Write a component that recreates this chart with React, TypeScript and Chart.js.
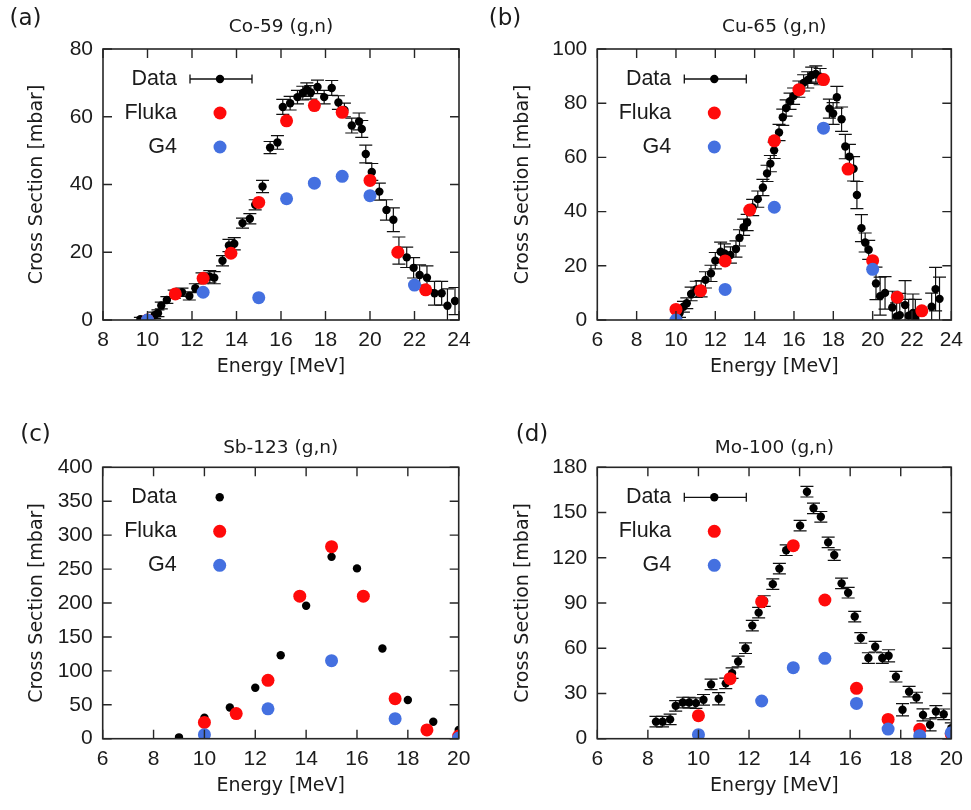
import { useEffect, useRef } from "react";
import { Chart, registerables } from "chart.js";

Chart.register(...registerables);

// ---------- Co-59 (g,n) ----------
const coDataEnergy = [9.68, 10.0, 10.32, 10.47, 10.62, 10.87, 11.2, 11.55, 11.88, 12.15, 12.45, 12.8, 13.0, 13.37, 13.66, 13.9, 14.27, 14.6, 14.84, 15.17, 15.51, 15.84, 16.08, 16.41, 16.74, 16.98, 17.16, 17.34, 17.64, 17.94, 18.28, 18.58, 18.85, 19.18, 19.51, 19.63, 19.81, 20.08, 20.42, 20.74, 21.05, 21.3, 21.65, 21.96, 22.23, 22.56, 22.9, 23.22, 23.48, 23.82];
const coDataXS = [0.2, 0.3, 1.4, 2.0, 4.3, 5.9, 7.6, 8.2, 7.1, 9.4, 12.3, 12.8, 12.5, 17.5, 22.0, 22.5, 28.6, 29.9, 34.0, 39.4, 50.9, 52.4, 62.9, 64.0, 65.8, 67.0, 68.0, 67.2, 68.8, 65.8, 68.5, 64.2, 62.0, 57.4, 58.6, 56.4, 49.0, 43.7, 37.9, 32.5, 29.6, 20.5, 18.5, 15.4, 13.3, 12.5, 7.9, 7.9, 4.2, 5.6];
const coDataErr = [0.6, 0.8, 0.9, 1.0, 1.0, 1.0, 1.2, 1.2, 1.2, 1.3, 1.6, 1.8, 1.8, 1.5, 1.8, 1.8, 1.5, 1.5, 1.5, 1.8, 1.8, 2.0, 2.2, 2.0, 2.0, 2.0, 2.0, 2.0, 2.0, 2.0, 2.2, 2.0, 2.0, 2.2, 2.5, 2.5, 2.6, 2.5, 2.5, 3.0, 3.5, 4.0, 3.0, 3.0, 3.0, 3.5, 3.5, 3.5, 5.0, 4.0];
const coFlukaEnergy = [10.0, 11.25, 12.5, 13.75, 15.0, 16.25, 17.5, 18.75, 20.0, 21.25, 22.5];
const coFlukaXS = [0.0, 7.7, 12.3, 19.7, 34.7, 58.8, 63.3, 61.3, 41.2, 20.0, 8.9];
const coG4Energy = [10.0, 12.5, 15.0, 16.25, 17.5, 18.75, 20.0, 22.0];
const coG4XS = [0.0, 8.2, 6.6, 35.8, 40.4, 42.4, 36.7, 10.3];

// ---------- Cu-65 (g,n) ----------
const cuDataEnergy = [10.18, 10.38, 10.55, 10.77, 11.03, 11.28, 11.5, 11.78, 12.0, 12.27, 12.46, 12.77, 13.05, 13.23, 13.44, 13.62, 13.9, 14.16, 14.42, 14.63, 14.8, 14.99, 15.24, 15.43, 15.6, 15.8, 15.98, 16.25, 16.49, 16.7, 16.9, 17.11, 17.33, 17.8, 17.99, 18.18, 18.42, 18.61, 18.82, 19.03, 19.2, 19.43, 19.62, 19.8, 20.17, 20.38, 20.63, 21.0, 21.22, 21.38, 21.65, 21.83, 22.05, 22.17, 23.0, 23.2, 23.4];
const cuDataXS = [2.5, 4.9, 6.2, 9.6, 11.3, 11.5, 14.8, 17.2, 21.9, 25.2, 24.6, 24.0, 26.2, 30.3, 34.2, 36.0, 41.5, 44.6, 48.9, 54.1, 57.7, 62.6, 69.2, 74.8, 78.2, 80.7, 82.6, 85.2, 87.5, 88.6, 90.3, 90.8, 89.8, 78.0, 76.2, 82.2, 74.1, 64.0, 60.3, 55.8, 46.1, 33.9, 28.6, 25.9, 13.5, 8.8, 10.0, 4.6, 1.3, 1.8, 5.5, 1.6, 2.6, 0.6, 4.9, 11.4, 7.8];
const cuDataErr = [1.5, 2, 2, 2.5, 3, 3, 3, 3, 3, 3.5, 3.5, 3, 3, 3, 3, 3, 3, 3, 3, 3, 3, 3, 3, 3, 3, 3, 3, 3, 3, 3, 3, 3, 3, 3.5, 4, 4, 4.5, 4.5, 4.5, 4.5, 5, 5, 3.5, 3.5, 6, 7, 6, 6, 5, 8, 9, 6, 7, 7, 5, 8, 8];
const cuFlukaEnergy = [10.0, 11.25, 12.5, 13.75, 15.0, 16.25, 17.5, 18.75, 20.0, 21.25, 22.5];
const cuFlukaXS = [3.9, 10.8, 21.8, 40.6, 66.1, 85.0, 88.7, 55.7, 21.9, 8.4, 3.4];
const cuG4Energy = [10.0, 12.5, 15.0, 17.5, 20.0];
const cuG4XS = [0.0, 11.3, 41.6, 70.8, 18.7];

// ---------- Sb-123 (g,n) ----------
const sbDataEnergy = [9, 10, 11, 12, 13, 14, 15, 16, 17, 18, 19, 20];
const sbDataXS = [2, 31, 46, 75, 123, 196, 268, 251, 133, 57, 25, 13];
const sbFlukaEnergy = [10.0, 11.25, 12.5, 13.75, 15.0, 16.25, 17.5, 18.75, 20.0];
const sbFlukaXS = [24, 37, 86, 210, 283, 210, 59, 13, 4];
const sbG4Energy = [10.0, 12.5, 15.0, 17.5, 20.0];
const sbG4XS = [6, 44, 115, 29.5, 1];

// ---------- Mo-100 (g,n) ----------
const moDataEnergy = [8.32, 8.58, 8.88, 9.1, 9.38, 9.63, 9.9, 10.2, 10.5, 10.8, 11.08, 11.33, 11.57, 11.86, 12.13, 12.38, 12.6, 12.94, 13.2, 13.47, 14.02, 14.29, 14.55, 14.84, 15.13, 15.37, 15.66, 15.92, 16.18, 16.42, 16.72, 16.99, 17.27, 17.52, 17.81, 18.07, 18.33, 18.62, 18.88, 19.16, 19.39, 19.7, 20.0];
const moDataXS = [11.3, 11.3, 12.8, 21.8, 24.0, 24.0, 23.6, 25.8, 36.0, 26.5, 36.7, 43.5, 51.2, 60.0, 75.0, 83.6, 91.3, 102.5, 112.8, 125.0, 141.3, 163.8, 152.8, 147.2, 130.2, 121.8, 103.0, 96.8, 81.0, 66.8, 53.5, 61.0, 53.5, 55.0, 41.1, 19.2, 31.2, 27.3, 15.8, 9.2, 18.0, 16.2, 7.0];
const moDataErr = [3.5, 3.5, 3.5, 3.5, 3.5, 3.5, 3.5, 3.5, 3.5, 4, 3.5, 3.5, 3.5, 3.5, 3.5, 3.5, 3.5, 3.5, 3.5, 3.5, 3.5, 3.5, 3.5, 3.5, 3.5, 3.5, 3.5, 3.5, 3.5, 3.5, 3.5, 3.5, 3.5, 4, 3.5, 4, 3.5, 3.5, 4, 4, 4, 3.5, 3.5];
const moFlukaEnergy = [10.0, 11.25, 12.5, 13.75, 15.0, 16.25, 17.5, 18.75, 20.0];
const moFlukaXS = [15.3, 39.8, 90.9, 128, 92, 33.4, 12.8, 6.2, 3];
const moG4Energy = [10.0, 12.5, 13.75, 15.0, 16.25, 17.5, 18.75, 20.0];
const moG4XS = [2.7, 25, 47.1, 53.3, 23.4, 6.4, 2, 4];

const legendLabels = ["Data", "Fluka", "G4"];

const RED = "#ff0a0a";
const BLUE = "#4470e0";
const INK = "#1b1b1b";
const SANS = "'Liberation Sans', Arial, Helvetica, sans-serif";
const DEJAVU = "'DejaVu Sans', sans-serif";

const CANVAS_W = 485;
const CANVAS_H = 405;
const X_AXIS_H = 32;

type Series = { e: number[]; xs: number[]; err?: number[] };
type Box = { left: number; top: number; right: number; bottom: number };
type Spec = {
  letter: string;
  title: string;
  pageLeft: number;
  pageTop: number;
  area: Box;
  titleY: number;
  letterX: number;
  letterY: number;
  xRange: [number, number, number];
  yRange: [number, number, number];
  data: Series;
  fluka: Series;
  g4: Series;
};

const toPoints = (s: Series) => s.e.map((x, i) => ({ x, y: s.xs[i] }));

function makeDecor(spec: Spec) {
  return {
    id: "decor" + spec.letter,
    beforeDatasetsDraw(chart: any) {
      const { ctx, chartArea } = chart;
      const xs = chart.scales.x;
      const ys = chart.scales.y;
      const err = spec.data.err;
      if (!err) return;
      ctx.save();
      ctx.beginPath();
      ctx.rect(chartArea.left, chartArea.top, chartArea.right - chartArea.left, chartArea.bottom - chartArea.top);
      ctx.clip();
      ctx.strokeStyle = "#111";
      ctx.lineWidth = 1.2;
      const cap = 6.5;
      spec.data.e.forEach((e, i) => {
        const px = xs.getPixelForValue(e);
        const y1 = ys.getPixelForValue(spec.data.xs[i] + err[i]);
        const y0 = ys.getPixelForValue(spec.data.xs[i] - err[i]);
        ctx.beginPath();
        ctx.moveTo(px, y0);
        ctx.lineTo(px, y1);
        ctx.moveTo(px - cap, y0);
        ctx.lineTo(px + cap, y0);
        ctx.moveTo(px - cap, y1);
        ctx.lineTo(px + cap, y1);
        ctx.stroke();
      });
      ctx.restore();
    },
    afterDraw(chart: any) {
      const { ctx, chartArea } = chart;
      const { left, top, right, bottom } = chartArea;
      const xs = chart.scales.x;
      const ys = chart.scales.y;
      ctx.save();
      // frame with inward ticks on all four sides
      ctx.strokeStyle = "#262626";
      ctx.lineWidth = 1.6;
      ctx.strokeRect(left, top, right - left, bottom - top);
      ctx.lineWidth = 1.4;
      const tl = 9;
      ctx.beginPath();
      xs.ticks.forEach((t: any) => {
        const px = xs.getPixelForValue(t.value);
        ctx.moveTo(px, bottom);
        ctx.lineTo(px, bottom - tl);
        ctx.moveTo(px, top);
        ctx.lineTo(px, top + tl);
      });
      ys.ticks.forEach((t: any) => {
        const py = ys.getPixelForValue(t.value);
        ctx.moveTo(left, py);
        ctx.lineTo(left + tl, py);
        ctx.moveTo(right, py);
        ctx.lineTo(right - tl, py);
      });
      ctx.stroke();

      // key
      const textRight = left + 74;
      const markX = left + 117;
      const rows = [top + 30, top + 64, top + 98];
      ctx.fillStyle = INK;
      ctx.font = `21.5px ${SANS}`;
      ctx.textAlign = "right";
      ctx.textBaseline = "middle";
      legendLabels.forEach((lab, i) => ctx.fillText(lab, textRight, rows[i]));
      if (spec.data.err) {
        ctx.strokeStyle = "#111";
        ctx.lineWidth = 1.3;
        ctx.beginPath();
        ctx.moveTo(markX - 30, rows[0]);
        ctx.lineTo(markX + 32, rows[0]);
        ctx.moveTo(markX - 30, rows[0] - 4.5);
        ctx.lineTo(markX - 30, rows[0] + 4.5);
        ctx.moveTo(markX + 32, rows[0] - 4.5);
        ctx.lineTo(markX + 32, rows[0] + 4.5);
        ctx.stroke();
      }
      const dot = (x: number, y: number, r: number, c: string) => {
        ctx.fillStyle = c;
        ctx.beginPath();
        ctx.arc(x, y, r, 0, Math.PI * 2);
        ctx.fill();
      };
      dot(markX, rows[0], 4.2, "#000");
      dot(markX, rows[1], 6.5, RED);
      dot(markX, rows[2], 6.5, BLUE);

      // titles
      ctx.fillStyle = INK;
      ctx.textAlign = "center";
      ctx.font = `18.5px ${DEJAVU}`;
      ctx.fillText(spec.title, (left + right) / 2, spec.titleY);
      ctx.font = `19px ${DEJAVU}`;
      ctx.fillText("Energy [MeV]", (left + right) / 2, bottom + 47);
      ctx.save();
      ctx.translate(37, (top + bottom) / 2);
      ctx.rotate(-Math.PI / 2);
      ctx.fillText("Cross Section [mbar]", 0, 0);
      ctx.restore();
      ctx.font = `23px ${DEJAVU}`;
      ctx.fillText(`(${spec.letter})`, spec.letterX, spec.letterY);
      ctx.restore();
    },
  };
}

function Panel({ spec }: { spec: Spec }) {
  const ref = useRef<HTMLCanvasElement | null>(null);
  useEffect(() => {
    if (!ref.current) return;
    const { area } = spec;
    const tickFont = { family: SANS, size: 21 };
    const chart = new Chart(ref.current, {
      type: "scatter",
      data: {
        datasets: [
          { label: "G4", data: toPoints(spec.g4), pointRadius: 6.5, pointBackgroundColor: BLUE, pointBorderWidth: 0, order: 1 },
          { label: "Fluka", data: toPoints(spec.fluka), pointRadius: 6.5, pointBackgroundColor: RED, pointBorderWidth: 0, order: 2 },
          { label: "Data", data: toPoints(spec.data), pointRadius: 4.2, pointBackgroundColor: "#000", pointBorderWidth: 0, order: 3 },
        ],
      },
      options: {
        responsive: false,
        animation: false,
        events: [],
        layout: {
          padding: {
            left: 0,
            top: area.top,
            right: CANVAS_W - area.right,
            bottom: CANVAS_H - area.bottom - X_AXIS_H,
          },
        },
        plugins: { legend: { display: false }, tooltip: { enabled: false }, title: { display: false } },
        scales: {
          x: {
            type: "linear",
            min: spec.xRange[0],
            max: spec.xRange[1],
            ticks: { stepSize: spec.xRange[2], autoSkip: false, maxRotation: 0, padding: 8, font: tickFont, color: INK },
            grid: { display: false, drawTicks: false },
            border: { display: false },
            afterFit: (s: any) => {
              s.height = X_AXIS_H;
            },
          },
          y: {
            type: "linear",
            min: spec.yRange[0],
            max: spec.yRange[1],
            ticks: { stepSize: spec.yRange[2], autoSkip: false, padding: 10, font: tickFont, color: INK },
            grid: { display: false, drawTicks: false },
            border: { display: false },
            afterFit: (s: any) => {
              s.width = area.left;
            },
          },
        },
      },
      plugins: [makeDecor(spec)],
    } as any);
    return () => chart.destroy();
  }, [spec]);
  return (
    <canvas
      ref={ref}
      width={CANVAS_W}
      height={CANVAS_H}
      style={{ position: "absolute", left: spec.pageLeft, top: spec.pageTop, width: CANVAS_W, height: CANVAS_H }}
    />
  );
}

const panels: Spec[] = [
  {
    letter: "a",
    title: "Co-59 (g,n)",
    pageLeft: 0,
    pageTop: 0,
    area: { left: 103, top: 49, right: 459, bottom: 320 },
    titleY: 27,
    letterX: 25.5,
    letterY: 19,
    xRange: [8, 24, 2],
    yRange: [0, 80, 20],
    data: { e: coDataEnergy, xs: coDataXS, err: coDataErr },
    fluka: { e: coFlukaEnergy, xs: coFlukaXS },
    g4: { e: coG4Energy, xs: coG4XS },
  },
  {
    letter: "b",
    title: "Cu-65 (g,n)",
    pageLeft: 486,
    pageTop: 0,
    area: { left: 111.3, top: 49, right: 467.3, bottom: 320 },
    titleY: 27,
    letterX: 19,
    letterY: 19,
    xRange: [6, 24, 2],
    yRange: [0, 100, 20],
    data: { e: cuDataEnergy, xs: cuDataXS, err: cuDataErr },
    fluka: { e: cuFlukaEnergy, xs: cuFlukaXS },
    g4: { e: cuG4Energy, xs: cuG4XS },
  },
  {
    letter: "c",
    title: "Sb-123 (g,n)",
    pageLeft: 0,
    pageTop: 405,
    area: { left: 102.7, top: 62.3, right: 458.7, bottom: 333.7 },
    titleY: 43,
    letterX: 35.5,
    letterY: 30,
    xRange: [6, 20, 2],
    yRange: [0, 400, 50],
    data: { e: sbDataEnergy, xs: sbDataXS },
    fluka: { e: sbFlukaEnergy, xs: sbFlukaXS },
    g4: { e: sbG4Energy, xs: sbG4XS },
  },
  {
    letter: "d",
    title: "Mo-100 (g,n)",
    pageLeft: 486,
    pageTop: 405,
    area: { left: 111.3, top: 62.3, right: 467.3, bottom: 333.7 },
    titleY: 43,
    letterX: 46,
    letterY: 30,
    xRange: [6, 20, 2],
    yRange: [0, 180, 30],
    data: { e: moDataEnergy, xs: moDataXS, err: moDataErr },
    fluka: { e: moFlukaEnergy, xs: moFlukaXS },
    g4: { e: moG4Energy, xs: moG4XS },
  },
];

export default function App() {
  return (
    <div style={{ position: "absolute", left: 0, top: 0, width: 971, height: 810, background: "#fff" }}>
      {panels.map((p) => (
        <Panel key={p.letter} spec={p} />
      ))}
    </div>
  );
}
